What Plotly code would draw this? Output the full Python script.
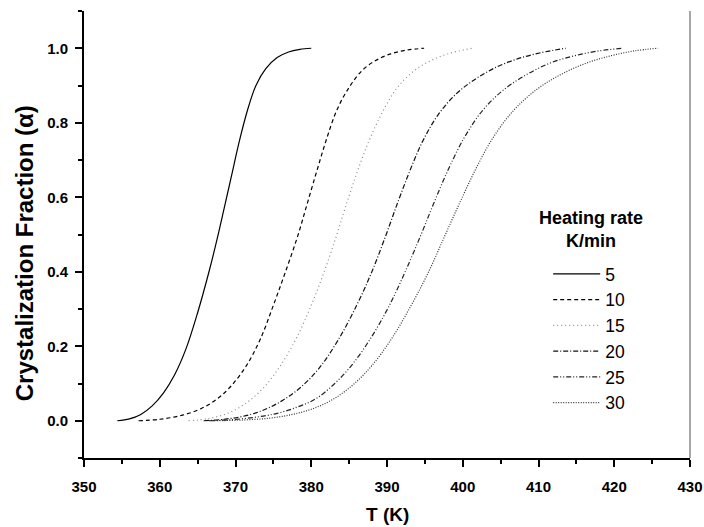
import plotly.graph_objects as go

# Heating rates (K/min)
rates = ["5", "10", "15", "20", "25", "30"]

# Temperature (K) and crystallization fraction
T_5 = [354.4, 356.0, 357.5, 359.0, 360.5, 362.0, 363.5, 365.0, 366.5, 367.6, 368.5, 369.5, 370.5, 371.6, 372.7, 374.0, 375.5, 377.0, 378.5, 380.0]
a_5 = [0.0, 0.005, 0.017, 0.04, 0.075, 0.125, 0.195, 0.29, 0.40, 0.49, 0.57, 0.66, 0.75, 0.835, 0.90, 0.945, 0.975, 0.99, 0.997, 1.0]

T_10 = [357.2, 360.0, 363.0, 365.5, 367.6, 369.5, 371.5, 373.3, 375.0, 376.6, 378.2, 379.5, 380.8, 382.0, 383.4, 385.0, 386.7, 388.5, 390.5, 392.6, 394.9]
a_10 = [0.0, 0.004, 0.015, 0.033, 0.059, 0.095, 0.15, 0.22, 0.31, 0.40, 0.495, 0.585, 0.675, 0.755, 0.835, 0.895, 0.94, 0.967, 0.985, 0.995, 1.0]

T_15 = [363.8, 366.5, 369.0, 371.0, 372.5, 374.2, 376.0, 378.0, 380.0, 381.8, 383.3, 384.7, 386.1, 387.6, 389.3, 391.2, 393.3, 395.6, 398.2, 401.3]
a_15 = [0.0, 0.006, 0.02, 0.042, 0.065, 0.10, 0.15, 0.22, 0.31, 0.405, 0.495, 0.585, 0.67, 0.75, 0.825, 0.89, 0.935, 0.965, 0.986, 1.0]

T_20 = [365.8, 368.5, 371.0, 373.5, 376.0, 378.5, 381.0, 383.5, 386.0, 388.0, 389.8, 391.4, 393.0, 394.7, 396.7, 399.0, 401.5, 404.3, 407.3, 410.3, 413.6]
a_20 = [0.0, 0.004, 0.012, 0.027, 0.052, 0.088, 0.14, 0.215, 0.31, 0.40, 0.495, 0.585, 0.67, 0.75, 0.82, 0.875, 0.915, 0.948, 0.972, 0.988, 1.0]

T_25 = [366.5, 369.5, 372.5, 375.5, 378.2, 380.6, 383.0, 385.3, 387.8, 390.2, 392.4, 394.4, 396.2, 398.1, 400.2, 402.7, 405.5, 408.5, 411.5, 414.8, 418.0, 421.2]
a_25 = [0.0, 0.003, 0.009, 0.02, 0.037, 0.059, 0.098, 0.148, 0.22, 0.305, 0.40, 0.495, 0.585, 0.675, 0.76, 0.835, 0.89, 0.93, 0.96, 0.98, 0.993, 1.0]

T_30 = [367.2, 371.0, 374.5, 377.5, 380.3, 383.0, 385.6, 388.0, 390.6, 393.2, 395.5, 397.6, 399.6, 401.7, 404.0, 406.8, 409.8, 413.0, 416.3, 419.6, 422.7, 425.8]
a_30 = [0.0, 0.002, 0.007, 0.017, 0.033, 0.059, 0.098, 0.148, 0.22, 0.31, 0.40, 0.495, 0.585, 0.675, 0.76, 0.835, 0.89, 0.93, 0.96, 0.98, 0.993, 1.0]

x_ticks = [350, 360, 370, 380, 390, 400, 410, 420, 430]
y_ticks = [0.0, 0.2, 0.4, 0.6, 0.8, 1.0]

series = [(T_5, a_5), (T_10, a_10), (T_15, a_15), (T_20, a_20), (T_25, a_25), (T_30, a_30)]
styles = [
    dict(color="#000000", dash="solid", width=1.2),
    dict(color="#000000", dash="4px,3px", width=1.2),
    dict(color="#8c8c8c", dash="1px,3px", width=1.2),
    dict(color="#111111", dash="5px,2px,1px,2px", width=1.2),
    dict(color="#222222", dash="5px,2px,1px,2px,1px,2px", width=1.2),
    dict(color="#333333", dash="1px,1.5px", width=1.2),
]

FONT = "Arial, 'Liberation Sans', sans-serif"

fig = go.Figure()
for name, (T, a), st in zip(rates, series, styles):
    fig.add_trace(go.Scatter(x=T, y=a, mode="lines", name=name,
                             line=dict(color=st["color"], dash=st["dash"], width=st["width"],
                                       shape="spline", smoothing=1.0)))

fig.update_layout(
    width=704, height=527,
    margin=dict(l=84, r=14, t=11, b=69),
    paper_bgcolor="white", plot_bgcolor="white",
    font=dict(family=FONT, color="black"),
    showlegend=True,
    legend=dict(
        x=0.766, y=0.452, xanchor="left", yanchor="top",
        font=dict(size=17.5, family=FONT),
        bgcolor="rgba(0,0,0,0)", itemwidth=47, tracegroupgap=0,
    ),
    xaxis=dict(
        range=[350, 430], tickvals=x_ticks, ticks="outside", ticklen=7, tickwidth=1.5,
        tickcolor="black", showline=True, linewidth=2, linecolor="black", mirror=False,
        showgrid=False, zeroline=False, automargin=False, ticklabelstandoff=7,
        tickfont=dict(size=15, family=FONT, weight="bold"),
        minor=dict(dtick=5, tick0=350, ticks="outside", ticklen=4, tickwidth=1.5, tickcolor="black"),
    ),
    yaxis=dict(
        range=[-0.1, 1.1], tickvals=y_ticks, tickformat=".1f", ticks="outside", ticklen=7, tickwidth=1.5,
        tickcolor="black", showline=True, linewidth=2, linecolor="black", mirror=False,
        showgrid=False, zeroline=False, automargin=False, ticklabelstandoff=4,
        tickfont=dict(size=15, family=FONT, weight="bold"),
        minor=dict(dtick=0.1, tick0=0, ticks="outside", ticklen=4, tickwidth=1.5, tickcolor="black"),
    ),
    annotations=[
        dict(text="<b>Crystalization Fraction (α)</b>", xref="paper", yref="paper",
             x=-0.099, y=0.458, xanchor="center", yanchor="middle", textangle=-90,
             showarrow=False, font=dict(size=24, family=FONT)),
        dict(text="<b>T (K)</b>", xref="paper", yref="paper",
             x=0.5, y=-0.127, xanchor="center", yanchor="middle",
             showarrow=False, font=dict(size=19, family=FONT)),
        dict(text="<b>Heating rate</b><br><b>K/min</b>", xref="paper", yref="paper",
             x=0.837, y=0.512, xanchor="center", yanchor="middle", align="center",
             showarrow=False, font=dict(size=18, family=FONT)),
    ],
)

# thin gray right frame line
fig.add_shape(type="line", xref="paper", yref="paper", x0=1, x1=1, y0=0, y1=1,
              line=dict(color="#888888", width=1.5))

# remove the default 8px page margin so the figure fills the 704x527 window exactly
fig.write_html("out.html",
               config={"displayModeBar": False},
               post_script="document.body.style.margin='0';document.body.style.overflow='hidden';")
